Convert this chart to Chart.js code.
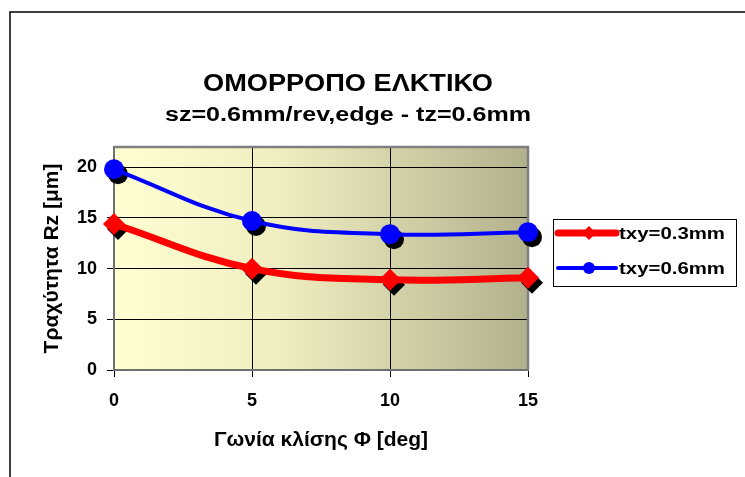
<!DOCTYPE html>
<html>
<head>
<meta charset="utf-8">
<script src="https://cdn.jsdelivr.net/npm/chart.js@4.4.0/dist/chart.umd.min.js"></script>
<style>
  html, body { margin: 0; padding: 0; background: #fff; }
  #wrap { width: 745px; height: 477px; }
</style>
</head>
<body>
<div id="wrap"><canvas id="rzChart" width="745" height="477"></canvas></div>
<script>
const angles = [0, 5, 10, 15];
const rzTxy03 = [14.4, 10.0, 8.9, 9.1];
const rzTxy06 = [19.8, 14.7, 13.4, 13.6];
const seriesNames = ['txy=0.3mm', 'txy=0.6mm'];
const xTicks = [0, 5, 10, 15];
const yTicks = [0, 5, 10, 15, 20];

const chartTitle = 'ΟΜΟΡΡΟΠΟ ΕΛΚΤΙΚΟ';
const chartSubtitle = 'sz=0.6mm/rev,edge - tz=0.6mm';

const FONT = '"Liberation Sans", Arial, sans-serif';

// draw text stretched to a given width (the old chart fonts run wide)
function fitText(ctx, text, x, y, font, width, align) {
  ctx.save();
  ctx.font = font;
  const k = width / ctx.measureText(text).width;
  ctx.translate(x, y);
  ctx.scale(k, 1);
  ctx.textAlign = align || 'center';
  ctx.textBaseline = 'alphabetic';
  ctx.fillStyle = '#000';
  ctx.fillText(text, 0, 0);
  ctx.restore();
}

function marker(ctx, style, x, y, r) {
  ctx.beginPath();
  if (style === 'rectRot') {
    ctx.moveTo(x, y - r);
    ctx.lineTo(x + r, y);
    ctx.lineTo(x, y + r);
    ctx.lineTo(x - r, y);
    ctx.closePath();
  } else {
    ctx.arc(x, y, r, 0, Math.PI * 2);
  }
  ctx.fill();
}

// outer frame + gradient plot area
const plotBackground = {
  id: 'plotBackground',
  beforeDraw(chart) {
    const {ctx, chartArea: a} = chart;
    ctx.save();
    ctx.strokeStyle = '#000';
    ctx.lineWidth = 1.5;
    ctx.strokeRect(10, 12, 900, 700);
    const g = ctx.createLinearGradient(a.left, 0, a.right, 0);
    g.addColorStop(0, '#FFFFD2');
    g.addColorStop(0.4, '#F0EEC0');
    g.addColorStop(1, '#B3B18C');
    ctx.fillStyle = g;
    ctx.fillRect(a.left, a.top, a.right - a.left, a.bottom - a.top);
    ctx.restore();
  }
};

// grey top/right edge and black drop shadows under the markers
const plotExtras = {
  id: 'plotExtras',
  beforeDatasetsDraw(chart) {
    const {ctx, chartArea: a} = chart;
    ctx.save();
    ctx.strokeStyle = '#808080';
    ctx.lineWidth = 2.5;
    ctx.beginPath();
    ctx.moveTo(a.left, a.top);
    ctx.lineTo(a.right, a.top);
    ctx.lineTo(a.right, a.bottom);
    ctx.stroke();
    ctx.fillStyle = '#000';
    chart.data.datasets.forEach((ds, i) => {
      chart.getDatasetMeta(i).data.forEach(pt => {
        marker(ctx, ds.pointStyle, pt.x + 4, pt.y + 5, ds.pointRadius);
      });
    });
    ctx.restore();
  }
};

// headings and the boxed legend on the right
const headings = {
  id: 'headings',
  afterDraw(chart) {
    const ctx = chart.ctx;
    fitText(ctx, chartTitle, 348, 91, 'bold 24px ' + FONT, 290);
    fitText(ctx, chartSubtitle, 348, 121, 'bold 20px ' + FONT, 366);

    ctx.save();
    ctx.strokeStyle = '#000';
    ctx.lineWidth = 1;
    ctx.strokeRect(553.5, 219.5, 183, 67);
    const rows = [233, 268];
    chart.data.datasets.forEach((ds, i) => {
      const y = rows[i];
      ctx.strokeStyle = ds.borderColor;
      ctx.lineWidth = ds.legendLine;
      ctx.lineCap = 'round';
      ctx.beginPath();
      ctx.moveTo(558, y);
      ctx.lineTo(616, y);
      ctx.stroke();
      ctx.fillStyle = ds.pointBackgroundColor;
      marker(ctx, ds.pointStyle, 589, y, ds.legendMarker);
      fitText(ctx, ds.label, 619, y + 6, 'bold 17px ' + FONT, 106, 'left');
    });
    ctx.restore();
  }
};

const toXY = ys => angles.map((x, i) => ({x, y: ys[i]}));

new Chart(document.getElementById('rzChart'), {
  type: 'line',
  data: {
    datasets: [
      {
        label: seriesNames[0],
        data: toXY(rzTxy03),
        borderColor: '#FF0000',
        borderWidth: 7,
        pointStyle: 'rectRot',
        pointRadius: 11,
        pointBackgroundColor: '#FF0000',
        pointBorderWidth: 0,
        legendLine: 7,
        legendMarker: 7,
        tension: 0.4,
        clip: false
      },
      {
        label: seriesNames[1],
        data: toXY(rzTxy06),
        borderColor: '#0000FF',
        borderWidth: 4,
        pointStyle: 'circle',
        pointRadius: 10,
        pointBackgroundColor: '#0000FF',
        pointBorderWidth: 0,
        legendLine: 4,
        legendMarker: 6,
        tension: 0.4,
        clip: false
      }
    ]
  },
  options: {
    responsive: false,
    animation: false,
    events: [],
    layout: { padding: { top: 147, right: 217, left: 0, bottom: 0 } },
    plugins: {
      legend: { display: false },
      title: { display: false },
      tooltip: { enabled: false }
    },
    scales: {
      x: {
        type: 'linear',
        min: 0,
        max: 15,
        afterBuildTicks: s => { s.ticks = xTicks.map(v => ({value: v})); },
        afterFit: s => { s.height = 107; },
        grid: { color: '#000', lineWidth: 1, tickLength: 7 },
        border: { color: '#707070', width: 2 },
        ticks: { color: '#000', padding: 13, font: { family: FONT, size: 18, weight: 'bold' } },
        title: {
          display: true,
          text: 'Γωνία κλίσης Φ [deg]',
          color: '#000',
          font: { family: FONT, size: 21, weight: 'bold' },
          padding: { top: 0, bottom: 24 }
        }
      },
      y: {
        min: 0,
        max: 22,
        afterBuildTicks: s => { s.ticks = yTicks.map(v => ({value: v})); },
        afterFit: s => { s.width = 114; },
        grid: { color: '#000', lineWidth: 1, tickLength: 7 },
        border: { color: '#707070', width: 2 },
        ticks: { color: '#000', padding: 10, font: { family: FONT, size: 18, weight: 'bold' } },
        title: {
          display: true,
          text: 'Τραχύτητα Rz [μm]',
          color: '#000',
          font: { family: FONT, size: 21, weight: 'bold' },
          padding: { top: 40, bottom: 0 }
        }
      }
    }
  },
  plugins: [plotBackground, plotExtras, headings]
});
</script>
</body>
</html>
